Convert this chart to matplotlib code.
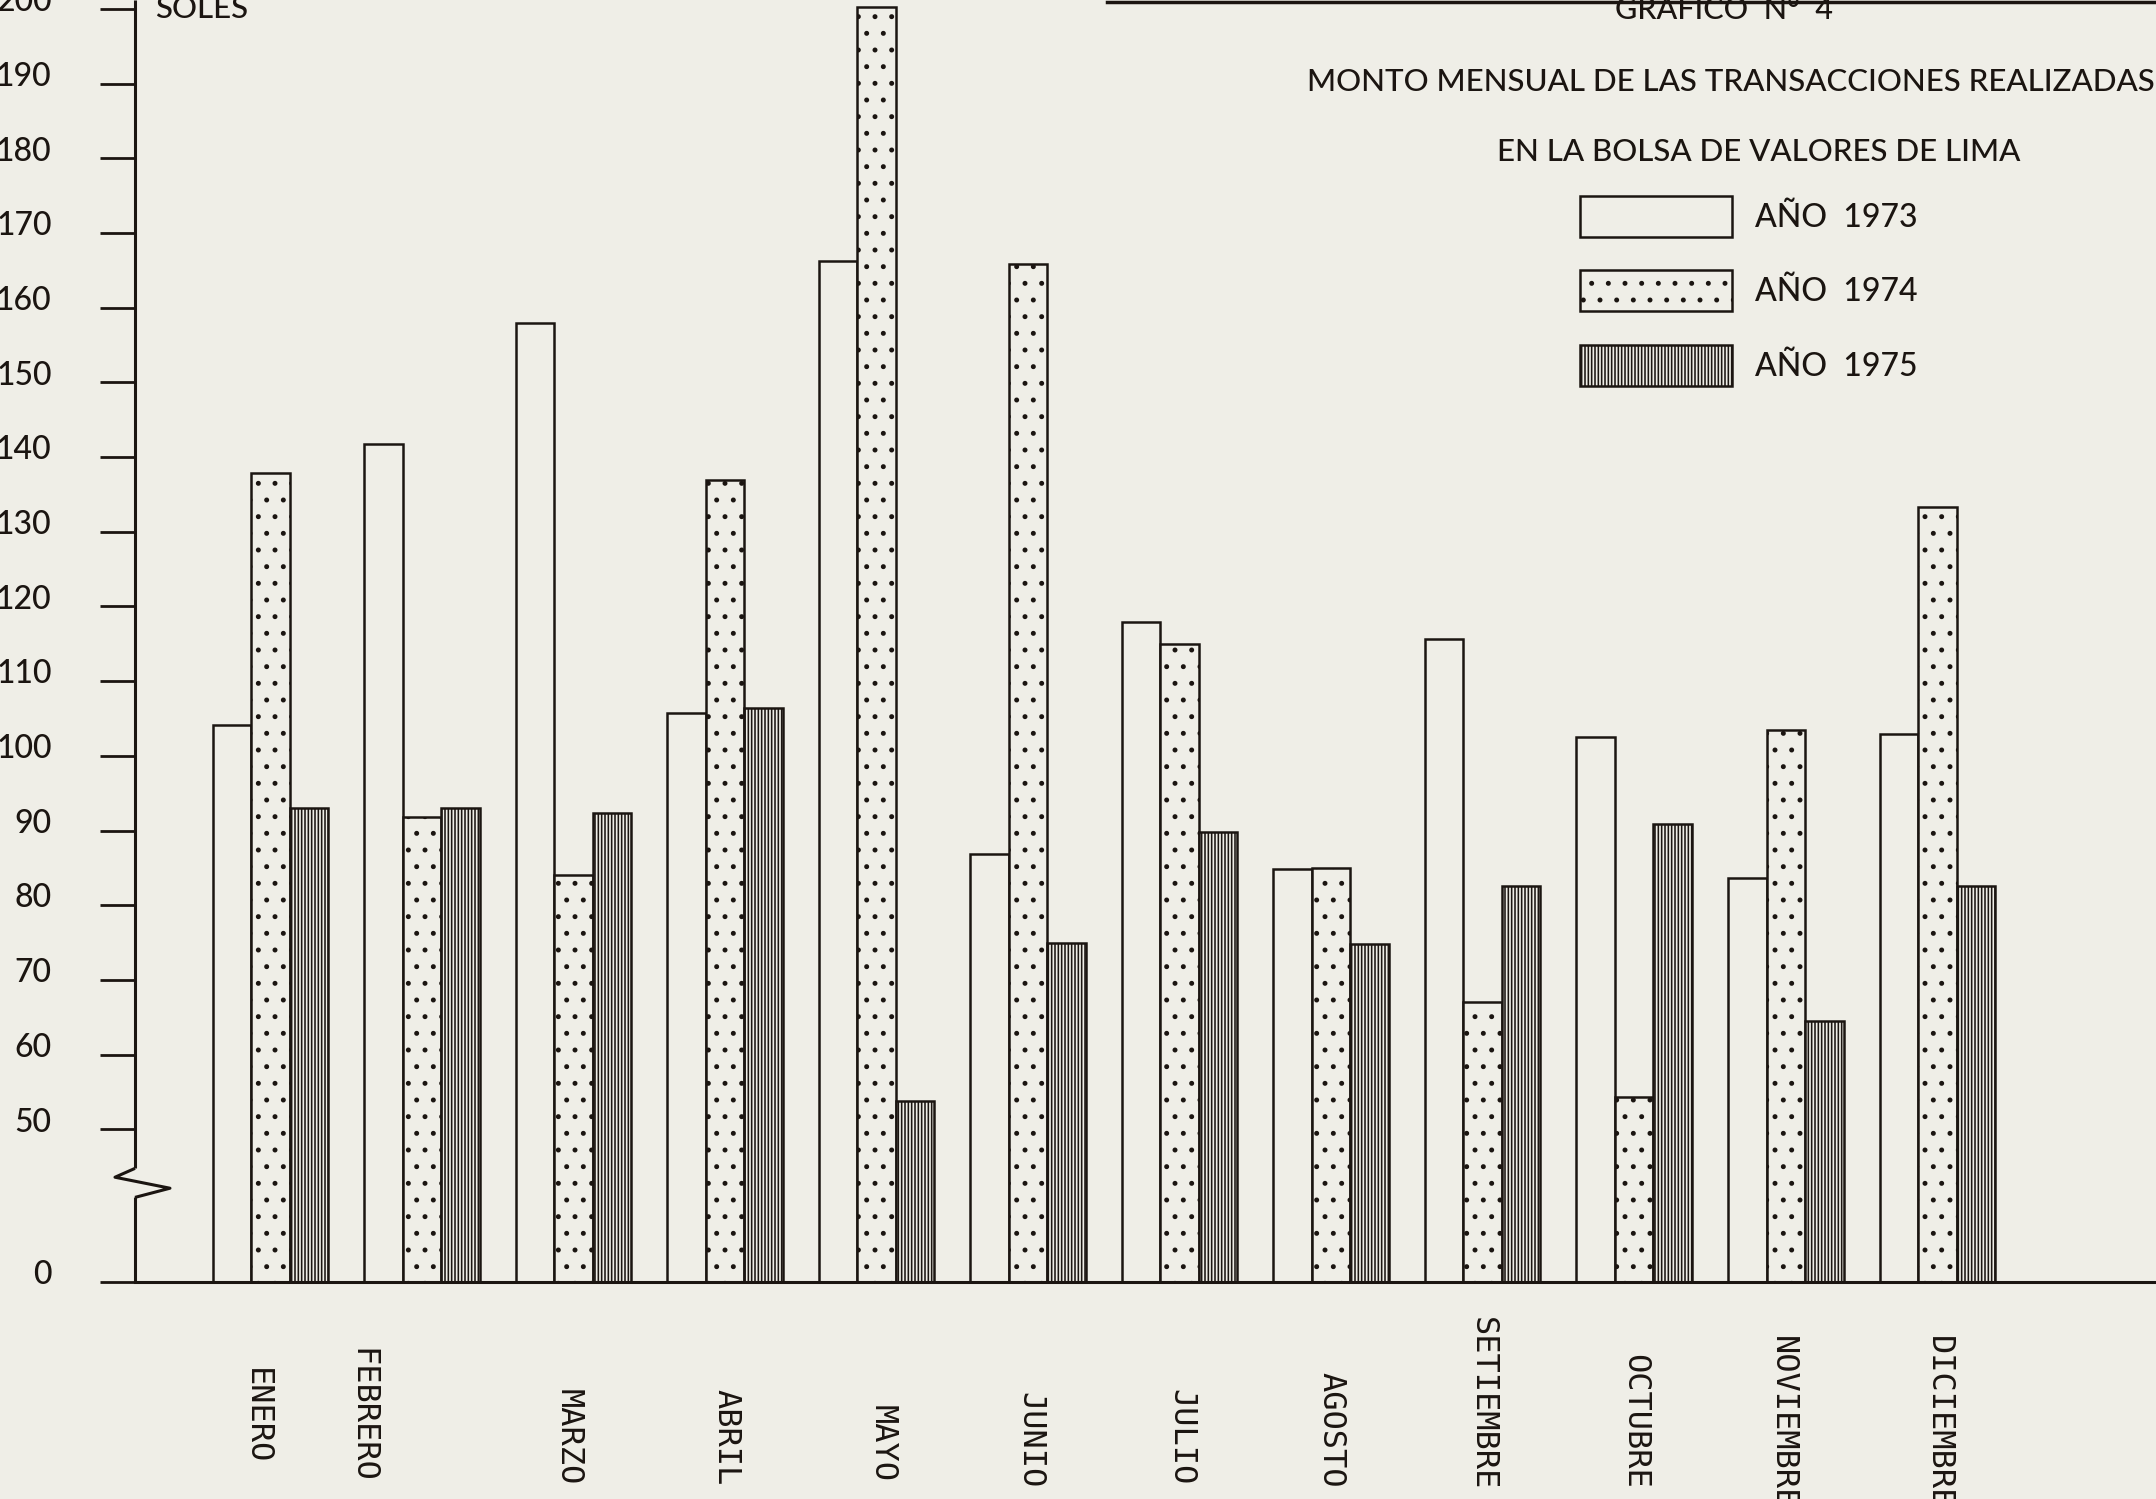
import numpy as np
import matplotlib.pyplot as plt
from matplotlib import transforms
from matplotlib.lines import Line2D
from matplotlib.ticker import NullLocator

# datos (soles)
meses = ['ENERO', 'FEBRERO', 'MARZO', 'ABRIL', 'MAYO', 'JUNIO', 'JULIO',
         'AGOSTO', 'SETIEMBRE', 'OCTUBRE', 'NOVIEMBRE', 'DICIEMBRE']
anio_1973 = [104.1, 141.8, 158.0, 105.8, 166.2, 86.8, 117.9, 84.9, 115.7, 102.5, 83.6, 102.9]
anio_1974 = [137.9, 91.8, 84.1, 136.9, 200.2, 165.8, 115.0, 85.0, 67.1, 54.3, 103.5, 133.3]
anio_1975 = [93.0, 93.0, 92.3, 106.4, 53.8, 74.9, 89.8, 74.8, 82.6, 90.9, 64.5, 82.6]
series = ['AÑO  1973', 'AÑO  1974', 'AÑO  1975']
yticks = [0, 50, 60, 70, 80, 90, 100, 110, 120, 130, 140, 150, 160, 170, 180, 190, 200]

# colocacion a mano de los nombres de los meses
etiqueta_dx = [-0.095, -0.397, -0.037, 0.005, 0.04, 0.01, 0.01, 0.0, 0.0, 0.0, -0.02, 0.01]
etiqueta_top = [1368, 1348, 1389, 1389, 1405, 1392, 1389, 1372, 1317, 1354, 1336, 1336]

PAPEL = '#efeee7'
TINTA = '#1b1511'
W, H = 2156, 1499

plt.rcParams['font.family'] = ['Lato', 'DejaVu Sans']
plt.rcParams['font.weight'] = 'medium'
plt.rcParams['hatch.color'] = TINTA
plt.rcParams['hatch.linewidth'] = 1.15

# eje cortado entre 0 y 50
CORTE = 0.409


def fwd(v):
    v = np.asarray(v, dtype=float)
    return np.where(v < 50, 50 - (50 - v) * CORTE, v)


def inv(u):
    u = np.asarray(u, dtype=float)
    return np.where(u < 50, 50 - (50 - u) / CORTE, u)


fig = plt.figure(figsize=(W / 100, H / 100), dpi=100, facecolor=PAPEL)
ax = fig.add_axes([135 / W, 1 - 1282 / H, 1 - 135 / W, 1282 / H])
ax.set_facecolor(PAPEL)
ax.set_yscale('function', functions=(fwd, inv))

x = np.arange(len(meses))
w = 0.254
ax.bar(x - w, anio_1973, w, color=PAPEL, edgecolor=TINTA, linewidth=1.8, label=series[0])
ax.bar(x, anio_1974, w, color=PAPEL, edgecolor=TINTA, linewidth=1.8, hatch='.', label=series[1])
ax.bar(x + w, anio_1975, w, color=PAPEL, edgecolor=TINTA, linewidth=1.8, hatch='|||||', label=series[2])

# eje vertical con el simbolo de corte
yt = ax.get_yaxis_transform()
kw = dict(transform=yt, color=TINTA, lw=2.2, clip_on=False, solid_capstyle='butt')
ax.plot([0, 0], [0, 27.7], **kw)
ax.plot([0, -0.0099, 0.0173, 0], [37.2, 34.3, 30.7, 27.7], **kw)
ax.plot([0, 0], [37.2, 201.2], **kw)

ax.set_xlim(-0.893, 12.443)
ax.set_ylim(0, 201.2)

ax.set_yticks(yticks)
ax.set_yticklabels([str(t) for t in yticks])
ax.yaxis.set_minor_locator(NullLocator())
ax.tick_params(axis='y', direction='out', length=25, width=2, color=TINTA,
               labelsize=23, pad=35, labelcolor=TINTA)
ax.tick_params(axis='x', bottom=False, labelbottom=False)
subir = transforms.ScaledTranslation(0, 7 / 72, fig.dpi_scale_trans)
for lbl in ax.get_yticklabels():
    lbl.set_transform(lbl.get_transform() + subir)

for s in ['top', 'right', 'left']:
    ax.spines[s].set_visible(False)
ax.spines['bottom'].set_linewidth(2.2)
ax.spines['bottom'].set_color(TINTA)

# nombres de los meses (maquina de escribir)
tr = transforms.blended_transform_factory(ax.transData, fig.transFigure)
for i, m in enumerate(meses):
    ax.text(i + etiqueta_dx[i], 1 - etiqueta_top[i] / H, m, rotation=-90,
            ha='center', va='top', transform=tr, color=TINTA,
            fontfamily='DejaVu Sans Mono', fontweight='normal', fontsize=23)

# textos
fig.text(155 / W, 1 - 9 / H, 'SOLES', fontsize=22.5, color=TINTA, ha='left', va='center')
fig.text(1615 / W, 1 - 10 / H, 'GRAFICO  N°  4', fontsize=22, color=TINTA, ha='left', va='center')
fig.text(1307 / W, 1 - 82 / H, 'MONTO MENSUAL DE LAS TRANSACCIONES REALIZADAS',
         fontsize=22.5, color=TINTA, ha='left', va='center')
fig.text(1497 / W, 1 - 152 / H, 'EN LA BOLSA DE VALORES DE LIMA',
         fontsize=22.5, color=TINTA, ha='left', va='center')

leg = ax.legend(loc='upper left', bbox_to_anchor=(1580 / W, 1 - 196 / H),
                bbox_transform=fig.transFigure, frameon=False, fontsize=23,
                handlelength=4.76, handleheight=1.58, labelspacing=1.06,
                handletextpad=0.72, borderpad=0, borderaxespad=0)
for t in leg.get_texts():
    t.set_color(TINTA)

# borde superior de la hoja escaneada
fig.add_artist(Line2D([1107 / W, 1], [1 - 1.5 / H, 1 - 1.5 / H], transform=fig.transFigure,
                      color=TINTA, lw=2.5))

fig.savefig('out.png', dpi=100, facecolor=PAPEL)
